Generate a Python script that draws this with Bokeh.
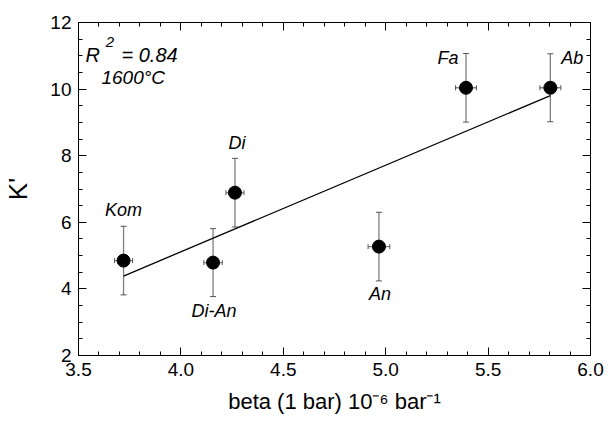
import numpy as np
from bokeh.plotting import figure
from bokeh.models import (ColumnDataSource, Whisker, TeeHead, LinearAxis, Range1d,
                          SingleIntervalTicker, Label, LabelSet, CustomJSTickFormatter,
                          CustomLabelingPolicy)
from bokeh.core.properties import value
from bokeh.embed import file_html
from bokeh.resources import INLINE

# ---- data ----
names = ["Kom", "Di-An", "Di", "An", "Fa", "Ab"]
beta = [3.72, 4.157, 4.264, 4.967, 5.392, 5.804]
kprime = [4.85, 4.79, 6.89, 5.27, 10.04, 10.04]
k_err = [1.03, 1.02, 1.03, 1.03, 1.03, 1.02]
beta_err = [0.044, 0.045, 0.044, 0.053, 0.051, 0.051]

# label offsets (screen px, bokeh: +y is up) - style only
lab_dx = [0, 1, 2, 1, -18, 22]
lab_dy = [51, -48, 50, -47, 30, 30]

FONT = "Liberation Sans"

src = ColumnDataSource(dict(
    x=beta, y=kprime, name=names,
    ylo=[v - e for v, e in zip(kprime, k_err)],
    yhi=[v + e for v, e in zip(kprime, k_err)],
    xlo=[v - e for v, e in zip(beta, beta_err)],
    xhi=[v + e for v, e in zip(beta, beta_err)],
    dx=lab_dx, dy=lab_dy,
))

p = figure(width=614, height=432, output_backend="svg", toolbar_location=None,
           x_range=Range1d(3.5, 6.0), y_range=Range1d(2, 12),
           min_border_left=77, min_border_right=22, min_border_top=22, min_border_bottom=77)
p.grid.visible = False
p.outline_line_color = "black"
p.outline_line_width = 1
p.background_fill_color = "white"
p.border_fill_color = "white"

hide_labels = CustomLabelingPolicy(code="""
const ids = [...indices];
for (const i of ids) indices.unset(i);
return indices;
""")

def style_axis(ax, show_labels=True):
    ax.axis_line_color = "black"
    ax.major_tick_in = 8
    ax.major_tick_out = 0
    ax.minor_tick_in = 4
    ax.minor_tick_out = 0
    ax.major_tick_line_color = "black"
    ax.minor_tick_line_color = "black"
    ax.major_label_text_font = FONT
    ax.major_label_text_font_size = "19px"
    ax.major_label_text_color = "black"
    if not show_labels:
        ax.major_label_policy = hide_labels

# x axis
xa = p.xaxis[0]
xa.ticker = SingleIntervalTicker(interval=0.5, num_minor_ticks=5)
xa.formatter = CustomJSTickFormatter(code="return tick.toFixed(1);")
style_axis(xa)
xa.major_label_standoff = 7
xa.axis_label = "beta (1 bar) 10\u207b\u2076 bar\u207b\u00b9"
xa.axis_label_text_font = FONT
xa.axis_label_text_font_size = "22px"
xa.axis_label_text_font_style = "normal"
xa.axis_label_text_color = "black"
xa.axis_label_standoff = 10

ya = p.yaxis[0]
ya.ticker = SingleIntervalTicker(interval=2, num_minor_ticks=4)
style_axis(ya)
ya.major_label_standoff = 7
ya.axis_label = "K'"
ya.axis_label_text_font = FONT
ya.axis_label_text_font_size = "26px"
ya.axis_label_text_font_style = "normal"
ya.axis_label_text_color = "black"
ya.axis_label_standoff = 14

top = LinearAxis(ticker=SingleIntervalTicker(interval=0.5, num_minor_ticks=5))
style_axis(top, False)
top.major_label_standoff = 0
p.add_layout(top, "above")
right = LinearAxis(ticker=SingleIntervalTicker(interval=2, num_minor_ticks=4))
style_axis(right, False)
right.major_label_standoff = 0
p.add_layout(right, "right")

# regression line
slope, inter = np.polyfit(beta, kprime, 1)
xs = np.array([min(beta), max(beta)])
p.line(xs, slope * xs + inter, line_color="black", line_width=1.3)

# error bars
p.add_layout(Whisker(source=src, base="x", lower="ylo", upper="yhi", dimension="height",
                     line_color="#808080", line_width=1.3,
                     lower_head=TeeHead(size=6, line_color="#555555"),
                     upper_head=TeeHead(size=6, line_color="#555555")))
p.add_layout(Whisker(source=src, base="y", lower="xlo", upper="xhi", dimension="width",
                     line_color="#808080", line_width=1.3,
                     lower_head=TeeHead(size=5, line_color="#555555"),
                     upper_head=TeeHead(size=5, line_color="#555555")))

p.scatter("x", "y", source=src, size=13, fill_color="black", line_color="black")

p.add_layout(LabelSet(x="x", y="y", text="name", source=src, x_offset="dx", y_offset="dy",
                      text_font=value(FONT), text_font_size=value("18px"),
                      text_font_style="italic", text_align="center",
                      text_baseline="middle", text_color="black"))

# annotation (R^2, temperature)
for txt, xx, yy, fs in [("R", 3.534, 11.03, "20px"), ("2", 3.633, 11.40, "15px"),
                        ("= 0.84", 3.71, 11.03, "20px"), ("1600\u00b0C", 3.612, 10.34, "19px")]:
    p.add_layout(Label(x=xx, y=yy, text=txt, text_font=FONT, text_font_size=fs,
                       text_font_style="italic", text_baseline="middle", text_color="black"))

open("out.html", "w").write(file_html(p, INLINE))
